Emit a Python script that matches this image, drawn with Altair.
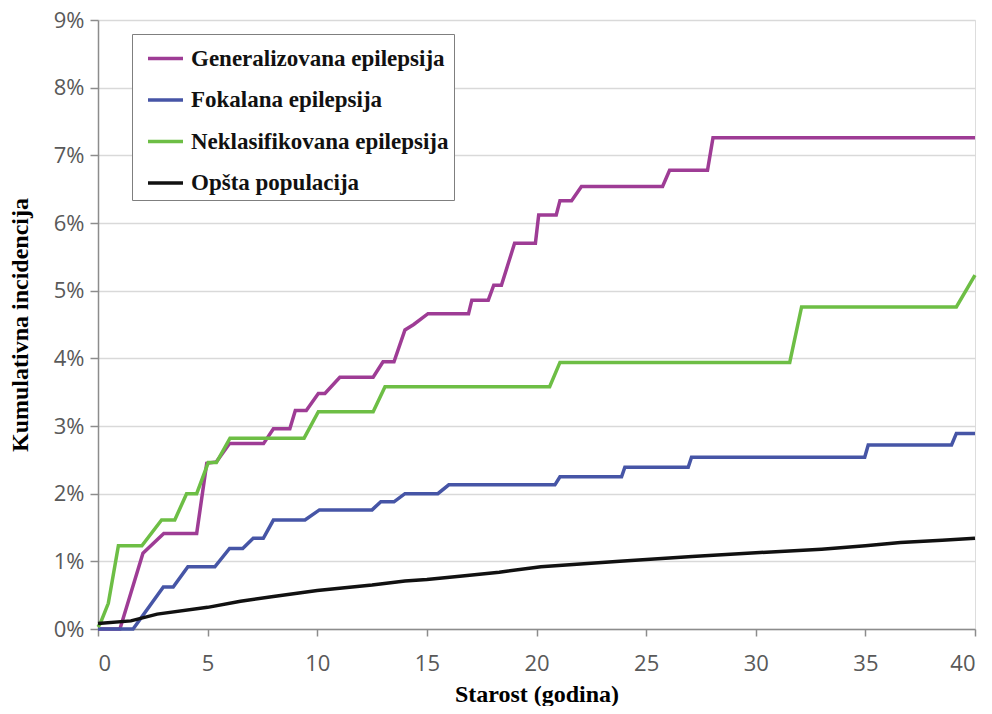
import altair as alt
import pandas as pd

series_names = ["Generalizovana epilepsija", "Fokalana epilepsija",
                "Neklasifikovana epilepsija", "Opšta populacija"]
series_colors = ["#9E3C95", "#4655A6", "#6DBE45", "#111111"]

gen_age = [0, 1.0, 2.05, 3.0, 4.5, 4.96, 5.4, 6.0, 7.55, 8.0, 8.75, 9.0, 9.5, 10.05, 10.35,
           11.03, 12.55, 13.0, 13.5, 14.0, 14.4, 15.05, 16.9, 17.05, 17.8, 18.05, 18.4,
           19.0, 19.95, 20.1, 20.9, 21.07, 21.6, 22.05, 25.75, 26.07, 27.8, 28.05, 40]
gen_val = [0, 0, 1.12, 1.41, 1.41, 2.45, 2.47, 2.74, 2.74, 2.96, 2.96, 3.23, 3.23, 3.48, 3.48,
           3.72, 3.72, 3.95, 3.95, 4.42, 4.5, 4.66, 4.66, 4.86, 4.86, 5.08, 5.08,
           5.70, 5.70, 6.12, 6.12, 6.33, 6.33, 6.54, 6.54, 6.78, 6.78, 7.26, 7.26]

fok_age = [0, 1.6, 2.98, 3.43, 4.1, 5.33, 6.0, 6.6, 7.08, 7.54, 8.0, 9.44, 10.1, 12.5, 12.9,
           13.5, 14.0, 15.5, 16.0, 20.84, 21.07, 23.88, 24.03, 26.92, 27.07, 34.97, 35.13,
           38.93, 39.15, 40]
fok_val = [0, 0, 0.62, 0.62, 0.92, 0.92, 1.19, 1.19, 1.34, 1.34, 1.61, 1.61, 1.76, 1.76, 1.88,
           1.88, 2.0, 2.0, 2.13, 2.13, 2.25, 2.25, 2.39, 2.39, 2.54, 2.54, 2.72,
           2.72, 2.89, 2.89]

nek_age = [0, 0.1, 0.47, 0.93, 2.0, 2.9, 3.5, 4.04, 4.5, 5.03, 5.4, 6.02, 9.4, 10.05, 12.55,
           13.09, 20.6, 21.07, 31.55, 32.09, 39.15, 40]
nek_val = [0.03, 0.08, 0.38, 1.23, 1.23, 1.61, 1.61, 2.0, 2.0, 2.46, 2.46, 2.82, 2.82, 3.21, 3.21,
           3.58, 3.58, 3.94, 3.94, 4.76, 4.76, 5.23]

pop_age = [0, 1.5, 2.7, 5.0, 6.5, 8.0, 10.0, 12.5, 14.0, 15.0, 16.5, 18.3, 20.2, 23.8, 27.1,
           30.2, 33.0, 35.0, 36.6, 38.5, 40]
pop_val = [0.08, 0.12, 0.22, 0.32, 0.41, 0.48, 0.57, 0.65, 0.71, 0.73, 0.78, 0.84, 0.92, 1.0, 1.07,
           1.13, 1.18, 1.23, 1.28, 1.31, 1.34]

x_ticks = [0, 5, 10, 15, 20, 25, 30, 35, 40]
y_ticks = [0, 1, 2, 3, 4, 5, 6, 7, 8, 9]

rows = []
for name, ages, vals in zip(series_names,
                            [gen_age, fok_age, nek_age, pop_age],
                            [gen_val, fok_val, nek_val, pop_val]):
    for i, (a, v) in enumerate(zip(ages, vals)):
        rows.append({"serija": name, "starost": a, "incidencija": v, "idx": i})
df = pd.DataFrame(rows)

serif = "Liberation Serif"
sans = "Open Sans"

chart = alt.Chart(df).mark_line(strokeWidth=3.5, strokeJoin="miter").encode(
    x=alt.X("starost:Q", title="Starost (godina)",
            scale=alt.Scale(domain=[0, 40], nice=False, zero=False),
            axis=alt.Axis(values=x_ticks, grid=False, tickSize=7, labelPadding=17,
                          labelFont=sans, labelFontSize=22, labelColor="#595959",
                          titleFont=serif, titleFontSize=24, titleFontWeight="bold",
                          titleColor="#000000", titlePadding=8,
                          domainColor="#8C8C8C", domainWidth=1.5,
                          tickColor="#8C8C8C", tickWidth=1.5)),
    y=alt.Y("incidencija:Q", title="Kumulativna incidencija",
            scale=alt.Scale(domain=[0, 9], nice=False),
            axis=alt.Axis(values=y_ticks, labelExpr="datum.value + '%'",
                          grid=True, gridColor="#D9D9D9", gridWidth=1.5,
                          tickSize=8, labelPadding=6,
                          labelFont=sans, labelFontSize=22, labelColor="#595959",
                          titleFont=serif, titleFontSize=24, titleFontWeight="bold",
                          titleColor="#000000", titlePadding=21,
                          domainColor="#8C8C8C", domainWidth=1.5,
                          tickColor="#8C8C8C", tickWidth=1.5)),
    color=alt.Color("serija:N",
                    scale=alt.Scale(domain=series_names, range=series_colors),
                    sort=series_names,
                    legend=alt.Legend(title=None, orient="none", legendX=34, legendY=14,
                                      symbolType="stroke", symbolSize=1225,
                                      symbolStrokeWidth=3.5, symbolOffset=9,
                                      labelOffset=6,
                                      labelExpr="datum.label + '  '",
                                      labelFont=serif, labelFontSize=23,
                                      labelFontWeight="bold", labelColor="#111111",
                                      labelLimit=400, rowPadding=9.5, padding=5,
                                      fillColor="#FFFFFF", strokeColor="#7F7F7F")),
    order="idx:Q",
).properties(
    width=877, height=609,
    autosize=alt.AutoSizeParams(type="none"),
    padding={"left": 90, "top": 12, "right": 9, "bottom": 77},
).configure_view(stroke="#A6A6A6", strokeWidth=1.5).configure(background="#FFFFFF")

chart.save("out.html", embed_options={"renderer": "svg", "actions": False})
